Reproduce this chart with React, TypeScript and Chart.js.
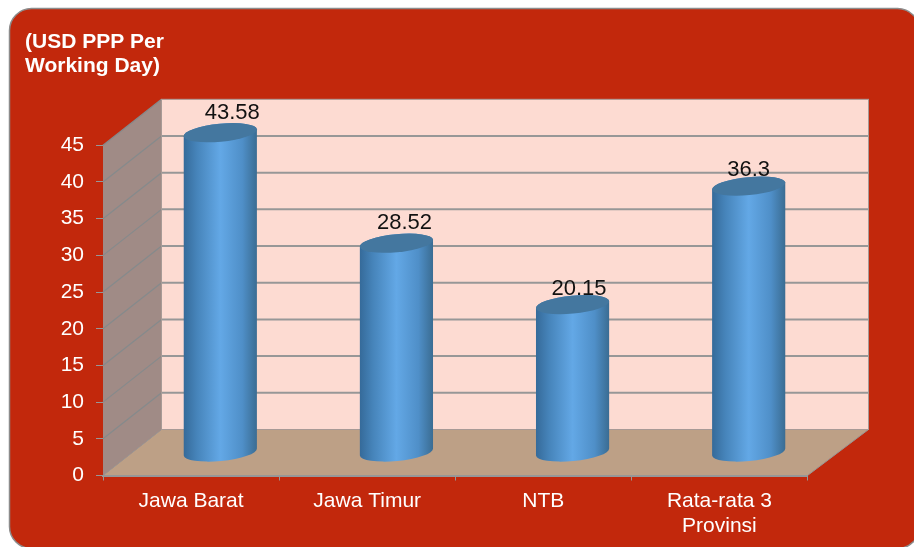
import React, { useEffect, useRef } from "react";
import { Chart, BarController, BarElement, registerables } from "chart.js";

Chart.register(...registerables);

const categories: (string | string[])[] = ["Jawa Barat", "Jawa Timur", "NTB", ["Rata-rata 3", "Provinsi"]];
const wages = [43.58, 28.52, 20.15, 36.3];
const valueLabels = ["43.58", "28.52", "20.15", "36.3"];
const titleLines = ["(USD PPP Per", "Working Day)"];
const labelNudgeX = [12, 8, 6.5, 0];
const labelNudgeY = [-19.5, -20, -15.5, -16];

const DEPTH_X = 58.5;
const DEPTH_Y = 46;
const FONT = '"Liberation Sans", Arial, sans-serif';
const GRID = "#979797";

class CylinderBar extends BarElement {
  static id = "cylinderBar";
  static defaults = { ...(BarElement as any).defaults };
  static defaultRoutes = (BarElement as any).defaultRoutes;
  draw(ctx: CanvasRenderingContext2D) {
    const { x, y, base, width } = (this as any).getProps(["x", "y", "base", "width"]);
    const cx = x + DEPTH_X / 2;
    const top = y - DEPTH_Y / 2;
    const bottom = base - DEPTH_Y / 2;
    const rx = width / 2;
    const ry = 9;
    const rot = (-5.5 * Math.PI) / 180;
    const g = ctx.createLinearGradient(cx - rx, 0, cx + rx, 0);
    g.addColorStop(0, "#356a99");
    g.addColorStop(0.18, "#4684ba");
    g.addColorStop(0.5, "#63a8e6");
    g.addColorStop(0.8, "#4f8fc8");
    g.addColorStop(1, "#3a6c92");
    ctx.save();
    ctx.beginPath();
    ctx.ellipse(cx, bottom, rx, ry, rot, 0, Math.PI, false);
    ctx.ellipse(cx, top, rx, ry, rot, Math.PI, 0, false);
    ctx.closePath();
    ctx.fillStyle = g;
    ctx.fill();
    ctx.beginPath();
    ctx.ellipse(cx, top, rx, ry, rot, 0, Math.PI * 2);
    ctx.fillStyle = (this as any).options.backgroundColor;
    ctx.fill();
    ctx.restore();
  }
}

class CylinderController extends BarController {
  static id = "cylinder";
  static defaults = { ...(BarController as any).defaults, dataElementType: "cylinderBar" };
  static overrides = (BarController as any).overrides;
}

Chart.register(CylinderBar as any, CylinderController as any);

const stagePlugin = {
  id: "stage",
  beforeDraw(chart: any) {
    const { ctx, width, height } = chart;
    ctx.save();
    ctx.fillStyle = "#ffffff";
    ctx.fillRect(0, 0, width, height);
    ctx.beginPath();
    ctx.roundRect(9.5, 8.5, 910, 540, 22);
    ctx.fillStyle = "#c2280c";
    ctx.fill();
    ctx.strokeStyle = "#8c8c8c";
    ctx.lineWidth = 1.5;
    ctx.stroke();
    ctx.restore();
  },
  beforeDatasetsDraw(chart: any) {
    const { ctx, chartArea, scales } = chart;
    const { left, right } = chartArea;
    const y = scales.y;
    const y0 = y.getPixelForValue(0);
    const yMax = y.getPixelForValue(45);
    const bl = left + DEPTH_X;
    const br = right + 61;
    ctx.save();
    // back wall
    ctx.fillStyle = "#fddbd2";
    ctx.fillRect(bl, yMax - DEPTH_Y, br - bl, y0 - yMax);
    // side wall
    ctx.beginPath();
    ctx.moveTo(left, yMax);
    ctx.lineTo(bl, yMax - DEPTH_Y);
    ctx.lineTo(bl, y0 - DEPTH_Y);
    ctx.lineTo(left, y0);
    ctx.closePath();
    ctx.fillStyle = "#a08b86";
    ctx.fill();
    // floor
    ctx.beginPath();
    ctx.moveTo(left, y0);
    ctx.lineTo(bl, y0 - DEPTH_Y);
    ctx.lineTo(br, y0 - DEPTH_Y);
    ctx.lineTo(right, y0);
    ctx.closePath();
    ctx.fillStyle = "#bda086";
    ctx.fill();
    ctx.strokeStyle = GRID;
    ctx.lineWidth = 1;
    ctx.stroke();
    // grid lines
    for (const t of y.ticks) {
      if (t.value === 0) continue;
      const p = y.getPixelForValue(t.value);
      ctx.lineWidth = 1.2;
      ctx.strokeStyle = "#858a8c";
      ctx.beginPath();
      ctx.moveTo(left, p);
      ctx.lineTo(bl, p - DEPTH_Y);
      ctx.stroke();
      if (t.value === 45) continue;
      ctx.lineWidth = 2;
      ctx.strokeStyle = GRID;
      ctx.beginPath();
      ctx.moveTo(bl, p - DEPTH_Y);
      ctx.lineTo(br, p - DEPTH_Y);
      ctx.stroke();
    }
    ctx.lineWidth = 1;
    ctx.strokeStyle = "#a89a96";
    ctx.strokeRect(bl, yMax - DEPTH_Y, br - bl, y0 - yMax);
    ctx.restore();
  },
  afterDatasetsDraw(chart: any) {
    const { ctx } = chart;
    const els = chart.getDatasetMeta(0).data;
    ctx.save();
    ctx.font = `22px ${FONT}`;
    ctx.fillStyle = "#111111";
    ctx.textAlign = "center";
    ctx.textBaseline = "middle";
    els.forEach((el: any, i: number) => {
      const top = el.y - DEPTH_Y / 2;
      ctx.fillText(valueLabels[i], el.x + DEPTH_X / 2 + labelNudgeX[i], top + labelNudgeY[i]);
    });
    ctx.restore();
  },
};

export default function App() {
  const ref = useRef<HTMLCanvasElement>(null);
  useEffect(() => {
    const chart = new Chart(ref.current as HTMLCanvasElement, {
      type: "cylinder" as any,
      data: {
        labels: categories as any,
        datasets: [
          {
            label: "USD PPP Per Working Day",
            data: wages,
            backgroundColor: "#44779f",
            barThickness: 73.5,
            clip: false,
          } as any,
        ],
      },
      options: {
        responsive: false,
        animation: false,
        layout: { padding: { left: 25, right: 106.5, top: 30, bottom: 0 } },
        plugins: {
          legend: { display: false },
          tooltip: { enabled: false },
          title: {
            display: true,
            text: titleLines,
            align: "start",
            color: "#ffffff",
            font: { family: FONT, size: 21, weight: "bold", lineHeight: 1.15 },
            padding: { top: 0, bottom: 67 },
          },
        },
        scales: {
          x: {
            type: "category",
            offset: true,
            grid: { display: true, offset: true, drawOnChartArea: false, color: GRID, tickLength: 5, tickColor: GRID },
            border: { display: true, color: GRID, width: 2 },
            ticks: {
              color: "#ffffff",
              font: { family: FONT, size: 21, lineHeight: 1.2 },
              maxRotation: 0,
              padding: 8,
            },
            afterFit: (s: any) => {
              s.height = 71.5;
            },
          },
          y: {
            type: "linear",
            min: 0,
            max: 45,
            grid: { display: true, drawOnChartArea: false, color: GRID, tickLength: 7, tickColor: GRID },
            border: { display: false },
            ticks: {
              stepSize: 5,
              color: "#ffffff",
              font: { family: FONT, size: 21 },
              padding: 12,
            },
            afterFit: (s: any) => {
              s.width = 78;
            },
          },
        },
      } as any,
      plugins: [stagePlugin],
    });
    return () => chart.destroy();
  }, []);
  return (
    <div style={{ position: "fixed", left: 0, top: 0, width: 914, height: 547 }}>
      <canvas ref={ref} width={914} height={547} style={{ display: "block" }} />
    </div>
  );
}
